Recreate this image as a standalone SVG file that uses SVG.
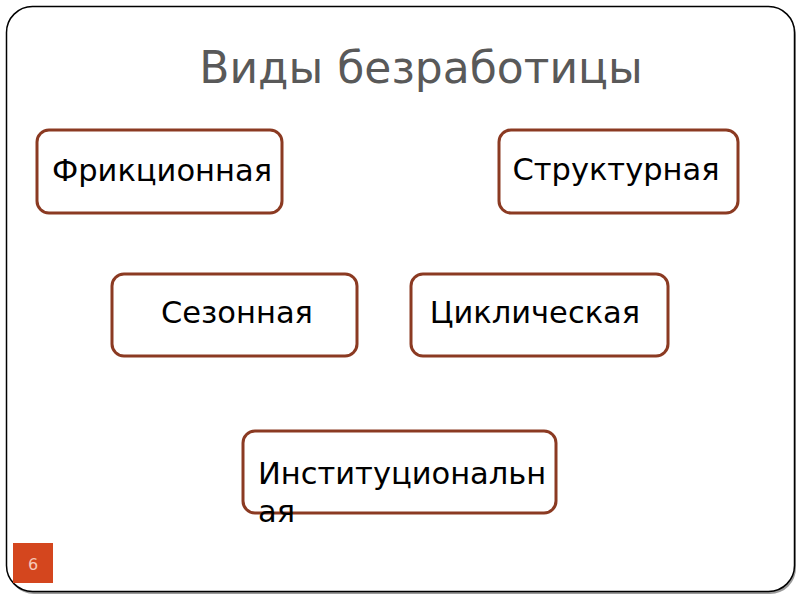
<svg xmlns="http://www.w3.org/2000/svg" width="800" height="600" viewBox="0 0 800 600">
<style>
.box{fill:#fff;stroke:#8B3A22;stroke-width:3}
.lbl{font-family:"DejaVu Sans","Liberation Sans",sans-serif;font-size:30.5px;fill:#000}
</style>
<rect x="0" y="0" width="800" height="600" fill="#fff"/>
<rect x="8" y="9" width="788" height="585" rx="26" fill="#9a9a9a"/>
<rect x="6.5" y="6.5" width="788" height="585" rx="26" fill="#fff" stroke="#000" stroke-width="1.5"/>
<text x="421" y="83" text-anchor="middle" font-family="DejaVu Sans, Liberation Sans, sans-serif" font-size="44" fill="#595959">Виды безработицы</text>
<g id="n1"><rect class="box" x="37" y="130" width="245" height="83" rx="12"/><text class="lbl" x="162" y="181" text-anchor="middle">Фрикционная</text></g>
<g id="n2"><rect class="box" x="499" y="130" width="239" height="83" rx="12"/><text class="lbl" x="616" y="180" text-anchor="middle">Структурная</text></g>
<g id="n3"><rect class="box" x="112" y="274" width="245" height="82" rx="12"/><text class="lbl" x="237" y="323" text-anchor="middle">Сезонная</text></g>
<g id="n4"><rect class="box" x="411" y="274" width="257" height="82" rx="12"/><text class="lbl" x="535" y="323" text-anchor="middle">Циклическая</text></g>
<g id="n5"><rect class="box" x="243" y="431" width="313" height="82" rx="12"/><text class="lbl" x="258" y="484">Институциональн</text><text class="lbl" x="258" y="522">ая</text></g>
<g id="connectors"/>
<g id="pagenum"><rect x="13" y="543" width="40" height="40" fill="#D4461E"/><text x="33" y="570" text-anchor="middle" font-family="DejaVu Sans, Liberation Sans, sans-serif" font-size="16" fill="#F5C8B8">6</text></g>
</svg>
